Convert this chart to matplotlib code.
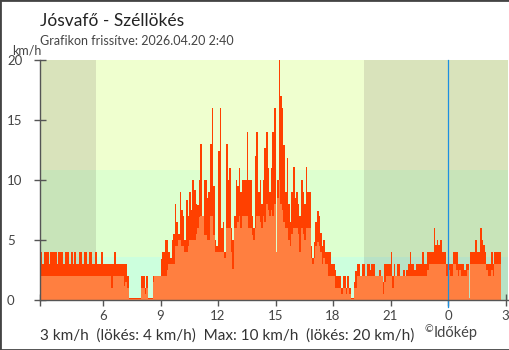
import numpy as np
import matplotlib
matplotlib.use('Agg')
import matplotlib.pyplot as plt
from matplotlib.patches import Rectangle

plt.rcParams['font.family'] = ['Lato', 'DejaVu Sans']

# 5-minute bins, first bin starts 2:45 (hours counted from previous midnight)
start_hour = 2.75
step_hour = 5 / 60

gust = [4, 3, 4, 4, 4, 3, 4, 4, 4, 4, 3, 4,
        4, 4, 3, 4, 4, 4, 3, 4, 3, 4, 3, 3,
        4, 4, 3, 4, 4, 3, 4, 4, 3, 3, 4, 3,
        3, 3, 4, 3, 3, 3, 3, 3, 3, 3, 4, 3,
        3, 3, 3, 3, 3, 3, 2, 0.2, 0.2, 0.2, 0.2, 0.2,
        0.2, 0.2, 0.2, 2, 2, 1, 2, 0.2, 0.2, 0.2, 2, 2,
        2, 2, 2, 3.4, 4, 4, 5, 5, 4, 3.5, 5, 5.5,
        8, 6.5, 5.5, 9, 7.5, 7, 5, 8.3, 7, 9, 7.5, 10,
        9.2, 8, 7.9, 10, 13, 6, 10, 10, 8.5, 9, 13, 16,
        9.5, 5, 4.5, 12.4, 16, 6, 6.5, 4, 13, 10, 11, 6,
        5, 7, 10, 9.5, 11, 9, 10, 10, 10, 14, 10, 10,
        7, 6, 12, 14, 9, 10, 8, 10, 12.7, 14, 11, 9,
        11, 14, 16, 4, 10, 20, 17, 16, 12.9, 9, 11.8, 8,
        6.5, 9, 11.1, 8.5, 9, 8, 7, 10, 9, 8, 11.1, 9,
        9, 4.5, 3.5, 4.8, 6.5, 7.4, 7, 5.6, 4.5, 5, 4, 4,
        4, 4, 3, 3, 2.5, 2, 2, 2, 1, 2, 2, 1,
        2, 1, 0.2, 0.2, 1.5, 2.4, 3, 3, 2, 3, 3, 2,
        3, 3, 2.5, 3, 3, 2, 2, 2, 2.5, 2, 1.5, 3,
        3, 3, 3, 4, 2, 3, 2, 3, 3, 2, 2, 2.5,
        2, 2.5, 3, 4, 3, 3, 2.5, 3, 3, 3, 3, 4,
        3, 3, 4, 4, 4, 4, 6, 4.6, 5, 4.6, 5, 4,
        4, 4, 3, 3, 3, 3, 4, 4, 4, 3, 3, 3,
        3, 2.5, 3, 3, 0.2, 4, 4, 4, 5, 4, 4, 6,
        5, 4.6, 4, 3, 3, 3, 4, 3, 4, 4, 4, 4]

avg = [2, 2, 2, 2, 2, 2, 2, 2, 2, 2, 2, 2,
       2, 2, 2, 2, 2, 2, 2, 2, 2, 2, 2, 2,
       2, 2, 2, 2, 2, 2, 2, 2, 2, 2, 2, 2,
       2, 2, 2, 2, 2, 2, 2, 2, 1, 2, 2, 2,
       2, 2, 2, 2, 1.2, 1.5, 1, 0.1, 0.1, 0.1, 0.1, 0.1,
       0.1, 0.1, 0.1, 1, 1, 0.5, 1, 0.1, 0.1, 0.1, 1.5, 2,
       2, 2, 2, 2, 2, 2, 2, 2.5, 3, 3, 3, 3,
       4.5, 4.5, 5, 5, 4.5, 4.5, 4, 4, 4.5, 5, 5, 5,
       5, 5.5, 6, 6.9, 7, 7, 5.4, 5.4, 5, 5, 7, 7,
       5.4, 4, 4, 4, 4, 4, 4, 3.5, 6, 6, 6, 4,
       2.6, 6, 6, 6.5, 7, 6, 7, 7, 7, 7, 6, 6,
       5.4, 5, 6, 7, 7, 6.5, 6, 7, 6.5, 8, 7.5, 7,
       7.5, 7, 8, 4, 8.5, 10, 8, 7.5, 6.5, 6, 6, 5,
       4.5, 5.5, 6, 6, 6, 5.5, 4, 6, 5.5, 5, 6, 6,
       6, 3.5, 3, 3.5, 4.5, 4.8, 4.5, 4, 3, 3.5, 3, 3,
       2, 2, 2, 2, 1, 1, 1, 1, 0.5, 1, 1, 0.5,
       1, 0.5, 0.1, 0.1, 1, 1, 2, 2, 2, 2, 2, 2,
       2, 2, 2, 2, 2, 2, 2, 2, 2, 2, 0.5, 1.5,
       2, 2, 2, 2, 1, 2, 2, 2, 2, 2, 2, 2,
       2, 2, 2, 2, 2, 2, 2, 2, 2, 2, 2, 2,
       2, 2, 2.5, 3, 3, 3, 3, 3, 3, 3, 3, 3,
       3, 3, 2, 2.5, 2, 2, 3, 3, 2.5, 2, 2.5, 2,
       2, 2, 2, 2.5, 0.2, 3, 3, 3, 3, 3, 3, 3,
       3, 3, 3, 2.5, 2, 2, 2.5, 2, 3, 3, 3, 3]

xmin, xmax = 2.713, 27.156
tick_pos = [6, 9, 12, 15, 18, 21, 24, 27]
tick_lab = ['6', '9', '12', '15', '18', '21', '0', '3']
night = [(xmin, 5.63), (19.62, xmax)]
# wind bands (km/h): lower, upper, day colour, night colour
bands = [(0, 3.6, '#ccffdd', '#b8e2c6'),
         (3.6, 10.8, '#ddffcf', '#c8e4b9'),
         (10.8, 20, '#efffcf', '#d9e3bb')]

t = start_hour + step_hour * np.arange(len(gust))

fig = plt.figure(figsize=(5.1, 3.5), dpi=100)
ax = fig.add_axes([40 / 510, 50 / 350, 468.5 / 510, 240 / 350])

for lo, hi, cday, cnight in bands:
    ax.axhspan(lo, hi, color=cday, lw=0, zorder=0)
    ax.broken_barh([(a, b - a) for a, b in night], (lo, hi - lo),
                   color=cnight, lw=0, zorder=0.5)

ax.bar(t, gust, width=step_hour, align='edge', color='#ff4000', lw=0, zorder=2)
ax.bar(t, avg, width=step_hour, align='edge', color='#ff7f40', lw=0, zorder=2.1)

ax.plot([24, 24], [-0.55, 20], color='#1c8fe0', lw=0.9, zorder=3, clip_on=False)

ax.set_xlim(xmin, xmax)
ax.set_ylim(0, 20)
for s in ['top', 'right']:
    ax.spines[s].set_visible(False)
for s in ['left', 'bottom']:
    ax.spines[s].set_color('#555555')
    ax.spines[s].set_linewidth(1)
    ax.spines[s].set_zorder(4)

ax.set_yticks([0, 5, 10, 15, 20])
ax.tick_params(axis='y', direction='inout', length=9, width=1, color='#555555',
               labelsize=9.5, labelcolor='#444444', pad=19.3)
for lab in ax.get_yticklabels():
    lab.set_ha('left')
ax.set_xticks(tick_pos)
ax.set_xticklabels(tick_lab)
ax.set_xticks([xmin], minor=True)
ax.tick_params(axis='x', which='both', direction='inout', length=9, width=1,
               color='#555555', labelsize=9.5, labelcolor='#444444', pad=2.5)
ax.xaxis.get_major_ticks()[6].tick1line.set_color('#1c8fe0')

fig.text(40 / 510, 1 - 25.5 / 350, 'Jósvafő - Széllökés', fontsize=12.5,
         color='#222222', va='baseline')
fig.text(40 / 510, 1 - 45 / 350, 'Grafikon frissítve: 2026.04.20 2:40',
         fontsize=9, color='#444444', va='baseline')
fig.text(12 / 510, 1 - 54.5 / 350, 'km/h', fontsize=9, color='#444444', va='baseline')

summary = '%g km/h  (lökés: %g km/h)  Max: %g km/h  (lökés: %g km/h)' % (
    avg[-1], gust[-1], max(avg), max(gust))
fig.text(40 / 510, 1 - 340 / 350, summary, fontsize=11, color='#333333',
         va='baseline')
fig.text(425 / 510, 1 - 332 / 350, '©', fontsize=7.5, color='#444444', va='baseline')
fig.text(434 / 510, 1 - 337 / 350, 'Időkép', fontsize=10.5, color='#444444',
         va='baseline')

fig.patches.append(Rectangle((0, 0), 1, 1, transform=fig.transFigure, fill=False,
                             ec='#444444', lw=2))

fig.savefig('out.png', dpi=100, facecolor='white')
